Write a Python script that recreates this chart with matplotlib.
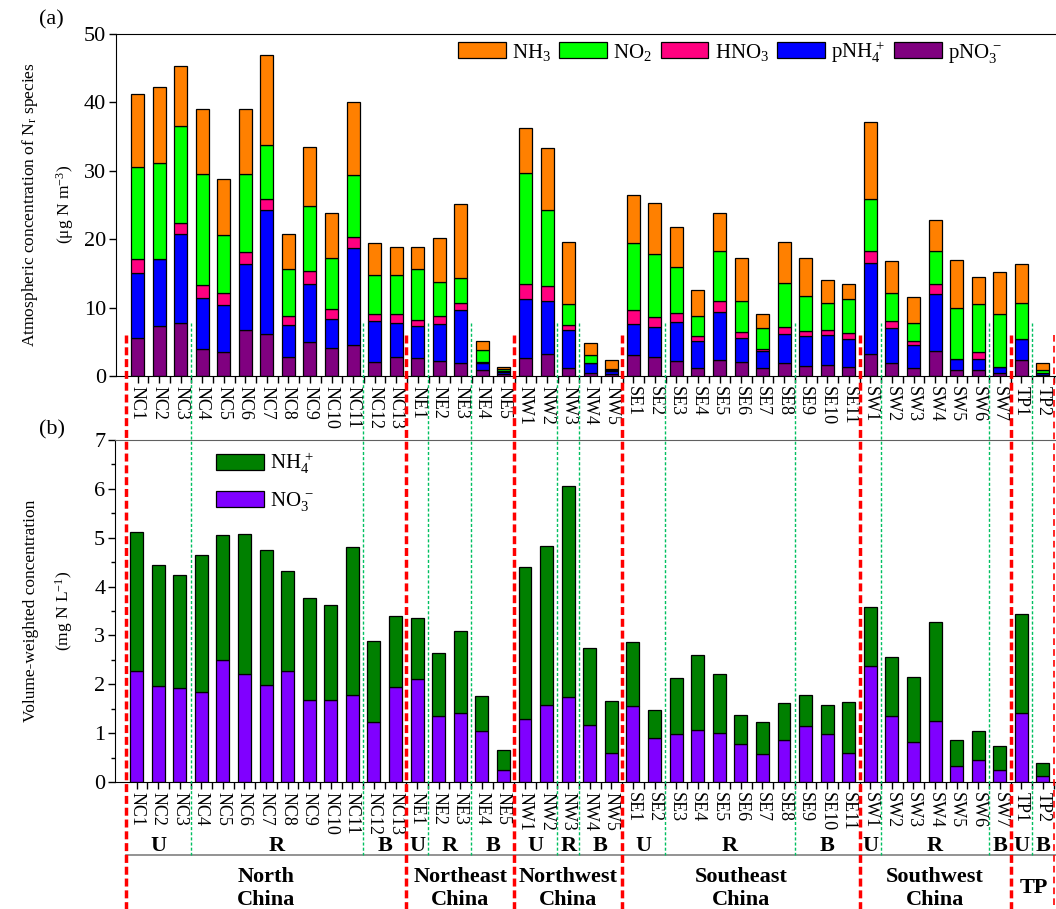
import matplotlib
matplotlib.use('Agg')
import matplotlib.pyplot as plt
import numpy as np

plt.rcParams['font.family'] = ['Liberation Serif', 'DejaVu Serif']
plt.rcParams['mathtext.fontset'] = 'custom'
plt.rcParams['mathtext.rm'] = 'Liberation Serif'
plt.rcParams['mathtext.it'] = 'Liberation Serif:italic'
plt.rcParams['mathtext.bf'] = 'Liberation Serif:bold'

# sites
sites = (['NC%d' % i for i in range(1, 14)] + ['NE%d' % i for i in range(1, 6)] +
         ['NW%d' % i for i in range(1, 6)] + ['SE%d' % i for i in range(1, 12)] +
         ['SW%d' % i for i in range(1, 8)] + ['TP1', 'TP2'])

# (a) atmospheric Nr species, ug N m-3
pNO3 = [5.5, 7.25, 7.7, 3.9, 3.5, 6.7, 6.2, 2.8, 4.9, 4.1, 4.6, 2.1, 2.7,
        2.6, 2.2, 1.85, 0.9, 0.3,
        2.6, 3.2, 1.1, 0.5, 0.3,
        3.0, 2.8, 2.2, 1.1, 2.3, 2.1, 1.2, 1.9, 1.5, 1.55, 1.3,
        3.2, 1.85, 1.1, 3.65, 0.8, 0.8, 0.4,
        2.3, 0.2]
pNH4 = [9.5, 9.85, 13.0, 7.5, 6.9, 9.6, 18.0, 4.7, 8.5, 4.3, 14.1, 5.9, 5.1,
        4.7, 5.4, 7.75, 1.05, 0.3,
        8.6, 7.7, 5.6, 1.35, 0.4,
        4.6, 4.3, 5.7, 4.0, 7.1, 3.5, 2.45, 4.2, 4.3, 4.45, 4.15,
        13.3, 5.15, 3.4, 8.35, 1.7, 1.7, 0.95,
        3.1, 0.2]
HNO3 = [2.1, 0.0, 1.7, 1.9, 1.7, 1.8, 1.7, 1.2, 2.0, 1.4, 1.6, 1.0, 1.2,
        0.9, 1.1, 1.0, 0.05, 0.1,
        2.3, 2.3, 0.8, 0.1, 0.1,
        2.0, 1.5, 1.35, 0.8, 1.5, 0.9, 0.35, 1.1, 0.8, 0.7, 0.85,
        1.7, 1.1, 0.6, 1.5, 0.0, 0.95, 0.0,
        0.0, 0.1]
NO2 = [13.5, 14.0, 14.2, 16.3, 8.5, 11.5, 7.9, 6.9, 9.5, 7.4, 9.1, 5.8, 5.8,
       7.4, 5.0, 3.7, 1.75, 0.3,
       16.2, 11.1, 3.0, 1.15, 0.2,
       9.8, 9.2, 6.65, 2.8, 7.3, 4.4, 3.0, 6.4, 5.1, 4.0, 5.0,
       7.7, 4.0, 2.6, 4.7, 7.4, 7.05, 7.65,
       5.2, 0.3]
NH3 = [10.6, 11.2, 8.7, 9.5, 8.2, 9.4, 13.1, 5.2, 8.6, 6.7, 10.7, 4.7, 4.0,
       3.3, 6.5, 10.9, 1.35, 0.27,
       6.6, 9.1, 9.1, 1.7, 1.4,
       7.1, 7.5, 5.9, 3.9, 5.7, 6.3, 2.0, 6.0, 5.6, 3.3, 2.2,
       11.3, 4.7, 3.9, 4.6, 7.1, 3.9, 6.2,
       5.7, 1.05]

# (b) volume-weighted concentration in precipitation, mg N L-1
NO3_w = [2.27, 1.97, 1.93, 1.84, 2.49, 2.21, 1.99, 2.28, 1.67, 1.67, 1.78, 1.22, 1.94,
         2.10, 1.35, 1.42, 1.04, 0.24,
         1.28, 1.57, 1.75, 1.17, 0.60,
         1.56, 0.91, 0.99, 1.07, 1.01, 0.77, 0.58, 0.87, 1.15, 0.99, 0.60,
         2.38, 1.35, 0.81, 1.24, 0.33, 0.45, 0.25,
         1.42, 0.13]
total_w = [5.12, 4.45, 4.23, 4.64, 5.05, 5.08, 4.74, 4.32, 3.76, 3.62, 4.82, 2.88, 3.40,
           3.35, 2.65, 3.09, 1.77, 0.66,
           4.40, 4.83, 6.05, 2.75, 1.65,
           2.86, 1.48, 2.12, 2.60, 2.21, 1.38, 1.22, 1.62, 1.78, 1.58, 1.64,
           3.59, 2.55, 2.14, 3.27, 0.87, 1.05, 0.73,
           3.44, 0.38]
NH4_w = [t - n for t, n in zip(total_w, NO3_w)]

# groups
region_bounds = [-0.5, 12.5, 17.5, 22.5, 33.5, 40.5]
type_bounds = [2.5, 10.5, 13.5, 15.5, 19.5, 20.5, 24.5, 30.5, 34.5, 39.5, 41.5]
type_labels = [('U', 1), ('R', 6.5), ('B', 11.5), ('U', 13), ('R', 14.5), ('B', 16.5),
               ('U', 18.5), ('R', 20), ('B', 21.5), ('U', 23.5), ('R', 27.5), ('B', 32),
               ('U', 34), ('R', 37), ('B', 40), ('U', 41), ('B', 42)]
region_labels = [('North\nChina', 6), ('Northeast\nChina', 15), ('Northwest\nChina', 20),
                 ('Southeast\nChina', 28), ('Southwest\nChina', 37), ('TP', 41.6)]

x = np.arange(len(sites))
w = 0.6

fig = plt.figure(figsize=(10.56, 9.09), dpi=100)
ax1 = fig.add_axes([0.1098, 0.5864, 0.890, 0.3762])
ax2 = fig.add_axes([0.1089, 0.1397, 0.891, 0.3762])
ax1.patch.set_alpha(0)
ax2.patch.set_alpha(0)

# panel (a)
series = [(pNO3, '#800080', 'pNO$_3^{\\,-}$'), (pNH4, '#0000FF', 'pNH$_4^{\\,+}$'),
          (HNO3, '#FF0080', 'HNO$_3$'), (NO2, '#00FF00', 'NO$_2$'), (NH3, '#FF8000', 'NH$_3$')]
bottom = np.zeros(len(sites))
handles = {}
for vals, col, lab in series:
    b = ax1.bar(x, vals, w, bottom=bottom, color=col, edgecolor='black', linewidth=0.9, label=lab)
    handles[lab] = b
    bottom += np.array(vals)

order = ['NH$_3$', 'NO$_2$', 'HNO$_3$', 'pNH$_4^{\\,+}$', 'pNO$_3^{\\,-}$']
ax1.legend([handles[k] for k in order], order, ncol=5, loc='upper right',
           bbox_to_anchor=(0.943, 0.985), frameon=False, fontsize=15,
           handlelength=2.3, handleheight=0.8, handletextpad=0.3,
           columnspacing=0.4, borderpad=0, borderaxespad=0)

ax1.set_xlim(-1, 42.6)
ax1.set_ylim(0, 50)
ax1.set_yticks([0, 10, 20, 30, 40, 50])
ax1.set_xticks(x)
ax1.set_xticklabels(sites, rotation=270, fontsize=13)
ax1.set_xticks(x + 0.5, minor=True)
ax1.tick_params(axis='both', which='both', direction='out', length=5, width=1)
ax1.tick_params(axis='y', labelsize=16, pad=2)
ax1.tick_params(axis='x', pad=2)
ax1.spines['right'].set_visible(False)
ax1.set_ylabel('Atmospheric concentration of N$_\\mathrm{r}$ species\n(\u03bcg N m$^{-3}$)',
               fontsize=12.5, labelpad=6, linespacing=1.9)
fig.text(0.037, 0.978, '(a)', fontsize=16, ha='left', va='center')

# panel (b)
ax2.bar(x, NO3_w, w, color='#8000FF', edgecolor='black', linewidth=0.9, label='NO$_3^{\\,-}$')
ax2.bar(x, NH4_w, w, bottom=NO3_w, color='#008000', edgecolor='black', linewidth=0.9,
        label='NH$_4^{\\,+}$')
h, l = ax2.get_legend_handles_labels()
ax2.legend(h[::-1], l[::-1], loc='upper left', bbox_to_anchor=(0.107, 0.97), frameon=False,
           fontsize=15, handlelength=2.3, handleheight=0.8, handletextpad=0.3,
           labelspacing=0.7, borderpad=0, borderaxespad=0)
ax2.set_xlim(-1, 42.6)
ax2.set_ylim(0, 7)
ax2.set_yticks(range(8))
ax2.set_yticks(np.arange(0.5, 7, 1), minor=True)
ax2.set_xticks(x)
ax2.set_xticklabels(sites, rotation=270, fontsize=13)
ax2.set_xticks(x + 0.5, minor=True)
ax2.tick_params(axis='both', which='both', direction='out', length=5, width=1)
ax2.tick_params(axis='y', which='minor', length=3)
ax2.tick_params(axis='y', labelsize=16, pad=2)
ax2.tick_params(axis='x', pad=2)
ax2.spines['right'].set_visible(False)
ax2.spines['top'].set_color('#606060')
ax2.set_ylabel('Volume-weighted concentration\n(mg N L$^{-1}$)', fontsize=12.5,
               labelpad=14, linespacing=1.9)
fig.text(0.037, 0.527, '(b)', fontsize=16, ha='left', va='center')

# separators and group labels
tr = ax2.get_xaxis_transform()
for xb in region_bounds:
    ax2.plot([xb, xb], [1.307, -0.371], transform=tr, clip_on=False, color='#FF0000',
             linestyle=(0, (2.3, 1.1)), linewidth=2.5, zorder=5)
ax2.plot([42.5, 42.5], [1.307, -0.371], transform=tr, clip_on=False, color='#FF0000',
         linestyle=(0, (4, 2.5)), linewidth=1.2, zorder=5)
for xb in type_bounds:
    ax2.plot([xb, xb], [1.342, -0.2135], transform=tr, clip_on=False, color='#00C060',
             linestyle=(0, (2.2, 1.5)), linewidth=1.0, zorder=5)
ax2.plot([-0.5, 42.6], [-0.2135, -0.2135], transform=tr, clip_on=False, color='#808080',
         linewidth=1.2)
for lab, xc in type_labels:
    ax2.text(xc, -0.187, lab, transform=tr, ha='center', va='center', fontsize=16,
             fontweight='bold')
for lab, xc in region_labels:
    ax2.text(xc, -0.31, lab, transform=tr, ha='center', va='center', fontsize=16,
             fontweight='bold', linespacing=1.2)

plt.savefig('out.png', dpi=100)
